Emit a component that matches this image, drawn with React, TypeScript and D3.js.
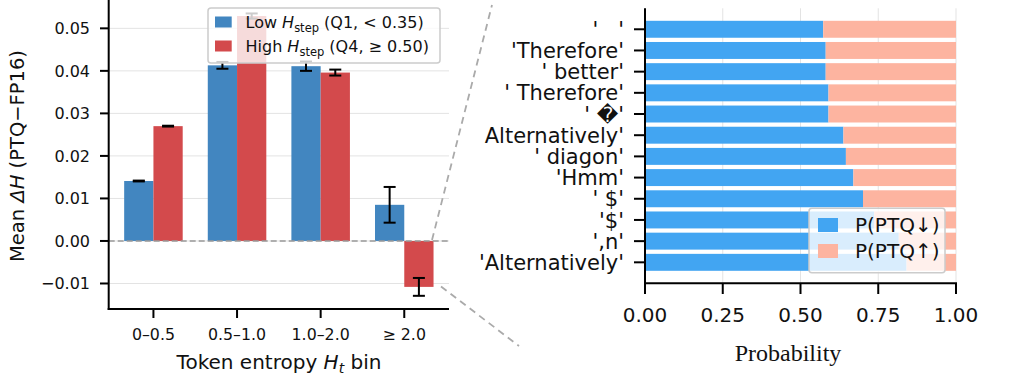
import React from "react";
import * as d3 from "d3";

const bins = ["0–0.5", "0.5–1.0", "1.0–2.0", "≥ 2.0"];
const lowVals = [0.0141, 0.0413, 0.0411, 0.0085];
const lowErr = [0.0001, 0.0008, 0.0011, 0.0042];
const highVals = [0.027, 0.0529, 0.0396, -0.0108];
const highErr = [0.0001, 0.0006, 0.0007, 0.0021];
const leftYTicks = [-0.01, 0, 0.01, 0.02, 0.03, 0.04, 0.05];

const tokens = [
  "'   '",
  "'Therefore'",
  "' better'",
  "' Therefore'",
  "' \uFFFD'",
  "Alternatively'",
  "' diagon'",
  "'Hmm'",
  "' $'",
  "'$'",
  "',n'",
  "'Alternatively'",
];
const pDown = [0.573, 0.581, 0.581, 0.59, 0.59, 0.638, 0.646, 0.67, 0.701, 0.737, 0.816, 0.841];
const rightXTicks = [0, 0.25, 0.5, 0.75, 1.0];

const BLUE = "#4286c0";
const RED = "#d34a4c";
const PBLUE = "#42a5f2";
const PSALMON = "#fdb4a0";
const SANS = "DejaVu Sans, sans-serif";

export default function App() {
  // Left panel
  const x = d3.scaleLinear().domain([-0.535, 3.535]).range([108.7, 449]);
  const y = d3.scaleLinear().domain([-0.016, 0.0569]).range([309, -1]);
  const bw = 0.35;
  const fmt = (v: number) => (v < 0 ? "\u2212" : "") + d3.format(".2f")(Math.abs(v));

  // Right panel
  const px = d3.scaleLinear().domain([0, 1]).range([645, 956]);
  const py = d3.scaleLinear().domain([-0.99, 11.99]).range([8.3, 283.3]);
  const bh = 0.8;

  const errBar = (cx: number, v: number, e: number, key: string) => {
    const y1 = y(v + e);
    const y2 = y(v - e);
    return (
      <g key={key} stroke="#000" strokeWidth={2}>
        <line x1={cx} x2={cx} y1={y1} y2={y2} />
        <line x1={cx - 6} x2={cx + 6} y1={y1} y2={y1} />
        <line x1={cx - 6} x2={cx + 6} y1={y2} y2={y2} />
      </g>
    );
  };

  return (
    <svg
      width={1025}
      height={376}
      style={{ position: "absolute", left: 0, top: 0, background: "#fff" }}
      fontFamily={SANS}
    >
      {/* ---------- LEFT PANEL ---------- */}
      {leftYTicks.map((t) => (
        <line key={"g" + t} x1={108.7} x2={449} y1={y(t)} y2={y(t)} stroke="#e3e3e3" strokeWidth={1} />
      ))}
      {bins.map((b, i) => (
        <g key={"bars" + i}>
          <rect x={x(i - bw)} width={x(i) - x(i - bw)} y={Math.min(y(lowVals[i]), y(0))} height={Math.abs(y(lowVals[i]) - y(0))} fill={BLUE} />
          <rect x={x(i)} width={x(i + bw) - x(i)} y={Math.min(y(highVals[i]), y(0))} height={Math.abs(y(highVals[i]) - y(0))} fill={RED} />
        </g>
      ))}
      {bins.map((b, i) => errBar(x(i - bw / 2), lowVals[i], lowErr[i], "el" + i))}
      {bins.map((b, i) => errBar(x(i + bw / 2), highVals[i], highErr[i], "eh" + i))}
      <line x1={108.7} x2={449} y1={y(0)} y2={y(0)} stroke="#999" strokeWidth={1.6} strokeDasharray="6,3" />

      {/* spines */}
      <line x1={108.7} x2={108.7} y1={-1} y2={310} stroke="#000" strokeWidth={2} />
      <line x1={107.7} x2={449} y1={309} y2={309} stroke="#000" strokeWidth={2} />
      {leftYTicks.map((t) => (
        <g key={"yt" + t}>
          <line x1={100} x2={108.7} y1={y(t)} y2={y(t)} stroke="#000" strokeWidth={2} />
          <text x={90} y={y(t)} dy="0.36em" textAnchor="end" fontSize={16} fill="#111">{fmt(t)}</text>
        </g>
      ))}
      {bins.map((b, i) => (
        <g key={"xt" + i}>
          <line x1={x(i)} x2={x(i)} y1={309} y2={318} stroke="#000" strokeWidth={2} />
          <text x={x(i)} y={334} dy="0.36em" textAnchor="middle" fontSize={15.8} fill="#111">{b}</text>
        </g>
      ))}
      <text x={279} y={361.5} dy="0.36em" textAnchor="middle" fontSize={20} fill="#111">
        Token entropy <tspan fontStyle="italic">H</tspan>
        <tspan fontStyle="italic" fontSize={14} dy={4}>t</tspan>
        <tspan dy={-4}> bin</tspan>
      </text>
      <text transform="translate(17,156) rotate(-90)" dy="0.36em" textAnchor="middle" fontSize={19.5} fill="#111">
        Mean <tspan fontStyle="italic">ΔH</tspan> (PTQ−FP16)
      </text>

      {/* left legend */}
      <rect x={208} y={8} width={232} height={55} rx={3} fill="#fff" fillOpacity={0.8} stroke="#ccc" strokeWidth={1.5} />
      <rect x={215} y={16.5} width={16.7} height={11} fill={BLUE} />
      <rect x={215} y={40.5} width={16.7} height={11} fill={RED} />
      <text x={245.5} y={22} dy="0.36em" fontSize={16} fill="#111">
        Low <tspan fontStyle="italic">H</tspan>
        <tspan fontSize={11.5} dy={4}>step</tspan>
        <tspan dy={-4}> (Q1, &lt; 0.35)</tspan>
      </text>
      <text x={245.5} y={46} dy="0.36em" fontSize={16} fill="#111">
        High <tspan fontStyle="italic">H</tspan>
        <tspan fontSize={11.5} dy={4}>step</tspan>
        <tspan dy={-4}> (Q4, ≥ 0.50)</tspan>
      </text>

      {/* connector lines */}
      <line x1={432} y1={240} x2={492} y2={5} stroke="#aaa" strokeWidth={1.8} strokeDasharray="7,5" />
      <line x1={441} y1={286.5} x2={519} y2={346} stroke="#aaa" strokeWidth={1.8} strokeDasharray="7,5" />

      {/* ---------- RIGHT PANEL ---------- */}
      {rightXTicks.map((t) => (
        <line key={"rg" + t} x1={px(t)} x2={px(t)} y1={8.3} y2={283.3} stroke="#e3e3e3" strokeWidth={1} />
      ))}
      {tokens.map((tk, i) => (
        <g key={"rb" + i}>
          <rect x={px(0)} width={px(pDown[i]) - px(0)} y={py(i - bh / 2)} height={py(i + bh / 2) - py(i - bh / 2)} fill={PBLUE} />
          <rect x={px(pDown[i])} width={px(1) - px(pDown[i])} y={py(i - bh / 2)} height={py(i + bh / 2) - py(i - bh / 2)} fill={PSALMON} />
        </g>
      ))}
      <line x1={645} x2={645} y1={8.3} y2={284.3} stroke="#000" strokeWidth={2} />
      <line x1={644} x2={957} y1={283.3} y2={283.3} stroke="#000" strokeWidth={2} />
      {tokens.map((tk, i) => (
        <g key={"ryt" + i}>
          <line x1={634} x2={645} y1={py(i)} y2={py(i)} stroke="#000" strokeWidth={2} />
          <text x={624} y={py(i)} dy="0.36em" textAnchor="end" fontSize={21} fill="#111" style={{ whiteSpace: "pre" }}>{tk}</text>
        </g>
      ))}
      {rightXTicks.map((t) => (
        <g key={"rxt" + t}>
          <line x1={px(t)} x2={px(t)} y1={283.3} y2={294} stroke="#000" strokeWidth={2} />
          <text x={px(t)} y={315} dy="0.36em" textAnchor="middle" fontSize={20} fill="#111">{d3.format(".2f")(t)}</text>
        </g>
      ))}
      <text x={788} y={352} dy="0.36em" textAnchor="middle" fontSize={24} fontFamily="Liberation Serif, Times New Roman, serif" fill="#111">Probability</text>

      {/* right legend */}
      <rect x={809} y={208.3} width={136} height={64.5} rx={3} fill="#fff" fillOpacity={0.8} stroke="#ccc" strokeWidth={1.5} />
      <rect x={818} y={218} width={20} height={14} fill={PBLUE} />
      <rect x={818} y={244} width={20} height={14} fill={PSALMON} />
      <text x={855} y={225} dy="0.36em" fontSize={20} fill="#111">P(PTQ↓)</text>
      <text x={855} y={251} dy="0.36em" fontSize={20} fill="#111">P(PTQ↑)</text>
    </svg>
  );
}
